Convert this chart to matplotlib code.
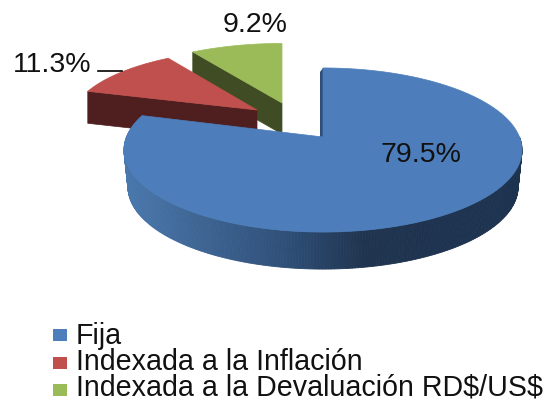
import numpy as np
import matplotlib
matplotlib.use('Agg')
import matplotlib.pyplot as plt
from matplotlib.colors import LinearSegmentedColormap
from matplotlib.patches import Rectangle

# values
labels = ['Fija', 'Indexada a la Inflación', r'Indexada a la Devaluación RD\$/US\$']
shares = [79.5, 11.3, 9.2]

top_colors = ['#4d7ebb', '#c0504d', '#9bbb59']
side_colors = ['#2f4f78', '#4f1f1f', '#404c23']

# pie geometry in pixels: tip position, half width, half height, depth
tips = [(323, 137), (257, 110), (282, 103)]
radii = [(196.5, 80), (184, 70), (185, 69)]
depths = [37, 32, 31]
tilt = 0.1586

rim_cmap = LinearSegmentedColormap.from_list(
    'rim', ['#4a78ad', '#3d6391', '#2f4f78', '#20344f', '#1e3350', '#1e3350'])


def project(angle_deg, tip, radius):
    """Put a point of the tilted circle on the page, with perspective."""
    a = np.radians(angle_deg)
    u, v = np.cos(a), np.sin(a)
    d = 1 + tilt * v
    return tip[0] + radius[0] * u / d, tip[1] - radius[1] * v / d


def draw_slice(ax, start, stop, i):
    tip, radius, depth = tips[i], radii[i], depths[i]
    angles = np.linspace(start, stop, 120)
    xs, ys = project(angles, tip, radius)

    if i == 0:
        # outer rim of the big slice, shaded from left to right
        # the lower edge is a little narrower than the top face
        low_radius = (radius[0] * 0.98, radius[1])
        rim = np.linspace(stop, 0, 260)
        for a0, a1 in zip(rim[:-1], rim[1:]):
            x0, y0 = project(a0, tip, radius)
            x1, y1 = project(a1, tip, radius)
            lx0, ly0 = project(a0, tip, low_radius)
            lx1, ly1 = project(a1, tip, low_radius)
            pos = np.clip((x0 - 125) / 400, 0, 1)
            ax.fill([x0, x1, lx1, lx0], [y0, y1, ly1 + depth, ly0 + depth],
                    color=rim_cmap(pos), lw=0.6, zorder=2)
        # thin cut face along the start edge
        ex, ey = project(start, tip, radius)
        ax.fill([tip[0], ex, ex - 3, tip[0] - 3], [tip[1], ey, ey + 4, tip[1]],
                color=side_colors[0], lw=0, zorder=3)
    else:
        # cut face on the start edge, pushed down by the depth
        ex, ey = project(start, tip, radius)
        ax.fill([tip[0], ex, ex, tip[0]],
                [tip[1], ey, ey + depth, tip[1] + depth],
                color=side_colors[i], lw=0.5, zorder=1 + (2 - i) / 2)

    ax.fill(np.r_[tip[0], xs], np.r_[tip[1], ys], color=top_colors[i], lw=0.5,
            zorder=4 if i == 0 else 1.2 + (2 - i) / 2)


fig = plt.figure(figsize=(5.55, 4), dpi=100)
ax = fig.add_axes([0, 0, 1, 1])
ax.set_xlim(0, 555)
ax.set_ylim(400, 0)
ax.axis('off')

plt.rcParams['font.family'] = ['Liberation Sans', 'DejaVu Sans']

start = 90
for i, share in enumerate(shares):
    stop = start - share * 3.6
    draw_slice(ax, start, stop, i)
    start = stop

# percent labels
ax.text(421, 155, f'{shares[0]}%', fontsize=20.5, ha='center', va='center', color='#111111', zorder=6)
ax.text(52, 65, f'{shares[1]}%', fontsize=20.5, ha='center', va='center', color='#111111', zorder=6)
ax.text(255, 25, f'{shares[2]}%', fontsize=20.5, ha='center', va='center', color='#111111', zorder=6)
ax.plot([98, 122], [71, 71], color='black', lw=1.2, zorder=6)

# legend
legend_y = [343.5, 369.5, 395.5]
box_y = [329, 357, 384]
for name, color, y, by in zip(labels, top_colors, legend_y, box_y):
    ax.add_patch(Rectangle((53, by), 14, 12, color=color, lw=0))
    ax.text(76, y, name, fontsize=20.6, ha='left', va='baseline', color='#111111')

fig.savefig('out.png', dpi=100)
